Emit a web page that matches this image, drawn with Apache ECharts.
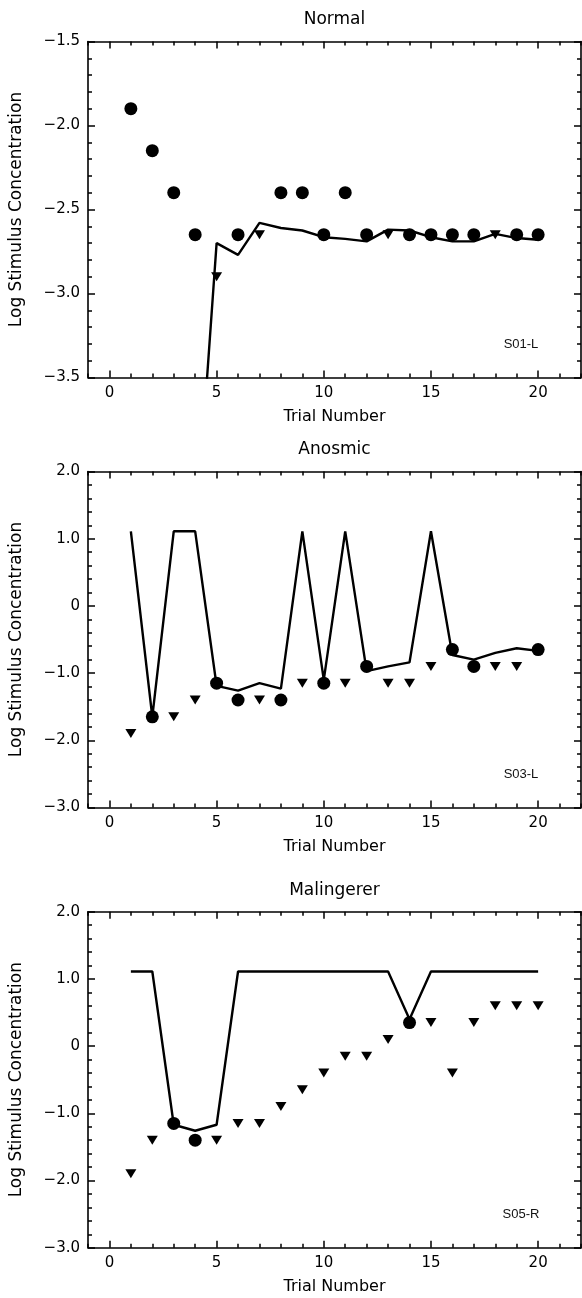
<!DOCTYPE html>
<html>
<head>
<meta charset="utf-8">
<script src="https://cdn.jsdelivr.net/npm/echarts@6/dist/echarts.min.js"></script>
<style>
  html, body { margin: 0; padding: 0; background: #fff; }
  #chart { width: 582px; height: 1298px; }
</style>
</head>
<body>
<div id="chart"></div>
<script>
// trial numbers (x)
var trials = [1,2,3,4,5,6,7,8,9,10,11,12,13,14,15,16,17,18,19,20];
var xTicks = [0, 5, 10, 15, 20];

// Normal, S01-L
var normCircle = [-1.9,-2.15,-2.4,-2.65,null,-2.65,null,-2.4,-2.4,-2.65,-2.4,-2.65,null,-2.65,-2.65,-2.65,-2.65,null,-2.65,-2.65];
var normTri    = [null,null,null,null,-2.9,null,-2.65,null,null,null,null,null,-2.65,null,null,null,null,-2.65,null,null];
var normLine   = [null,null,null,-4.5,-2.70,-2.77,-2.58,-2.61,-2.625,-2.665,-2.675,-2.69,-2.62,-2.625,-2.665,-2.69,-2.69,-2.645,-2.67,-2.68];

// Anosmic, S03-L
var anosCircle = [null,-1.65,null,null,-1.15,-1.4,null,-1.4,null,-1.15,null,-0.9,null,null,null,-0.65,-0.9,null,null,-0.65];
var anosTri    = [-1.9,null,-1.65,-1.4,null,null,-1.4,null,-1.15,null,-1.15,null,-1.15,-1.15,-0.9,null,null,-0.9,-0.9,null];
var anosLine   = [1.11,-1.65,1.11,1.11,-1.19,-1.26,-1.15,-1.23,1.11,-1.1,1.11,-0.97,-0.9,-0.84,1.11,-0.73,-0.8,-0.7,-0.63,-0.67];

// Malingerer, S05-R
var malCircle = [null,null,-1.15,-1.4,null,null,null,null,null,null,null,null,null,0.35,null,null,null,null,null,null];
var malTri    = [-1.9,-1.4,null,null,-1.4,-1.15,-1.15,-0.9,-0.65,-0.4,-0.15,-0.15,0.1,null,0.35,-0.4,0.35,0.6,0.6,0.6];
var malLine   = [1.11,1.11,-1.17,-1.26,-1.17,1.11,1.11,1.11,1.11,1.11,1.11,1.11,1.11,0.4,1.11,1.11,1.11,1.11,1.11,1.11];

var panels = [
  { title: 'Normal', tag: 'S01-L', top: 41.5, ymin: -3.5, ymax: -1.5, step: 0.5, circle: normCircle, tri: normTri, line: normLine },
  { title: 'Anosmic', tag: 'S03-L', top: 471.5, ymin: -3, ymax: 2, step: 1, circle: anosCircle, tri: anosTri, line: anosLine },
  { title: 'Malingerer', tag: 'S05-R', top: 911.7, ymin: -3, ymax: 2, step: 1, circle: malCircle, tri: malTri, line: malLine }
];

var FONT = 'DejaVu Sans';
var H = 336;

function pairs(vals) {
  return trials.map(function (t, k) { return [t, vals[k]]; });
}
function yFmt(v) {
  if (Math.abs(v) < 1e-9) return '0';
  return (v < 0 ? '\u2212' : '') + Math.abs(v).toFixed(1);
}

var grid = [], xAxis = [], yAxis = [], series = [], title = [];
var lineBlack = { color: '#000', width: 1.6 };
var tickBlack = { color: '#000', width: 1.5 };

panels.forEach(function (p, i) {
  grid.push({ left: 88, right: 1, top: p.top, height: H, outerBoundsMode: 'none' });

  title.push({
    text: p.title, left: 334.5, top: p.top - 30, textAlign: 'center', padding: 0,
    textStyle: { fontFamily: FONT, fontSize: 17, fontWeight: 'normal', color: '#000' }
  });
  title.push({
    text: p.tag, left: 521, top: p.top + 296, textAlign: 'center', padding: 0,
    textStyle: { fontFamily: 'Liberation Sans', fontSize: 13, fontWeight: 'normal', color: '#111' }
  });

  // bottom main
  xAxis.push({
    type: 'value', gridIndex: i, position: 'bottom', min: -1, max: 22,
    name: 'Trial Number', nameLocation: 'middle', nameGap: 31,
    nameTextStyle: { fontFamily: FONT, fontSize: 16, color: '#000' },
    axisLine: { show: true, onZero: false, lineStyle: lineBlack },
    axisTick: { show: true, inside: true, length: 7, customValues: xTicks, lineStyle: tickBlack },
    axisLabel: { show: true, customValues: xTicks, margin: 8, fontFamily: FONT, fontSize: 15, color: '#000' },
    splitLine: { show: false }
  });
  // bottom minor
  xAxis.push({
    type: 'value', gridIndex: i, position: 'bottom', min: -1, max: 22, interval: 1,
    axisLine: { show: false, onZero: false },
    axisTick: { show: true, inside: true, length: 4, lineStyle: tickBlack },
    axisLabel: { show: false }, splitLine: { show: false }
  });
  // top main
  xAxis.push({
    type: 'value', gridIndex: i, position: 'top', min: -1, max: 22,
    axisLine: { show: true, onZero: false, lineStyle: lineBlack },
    axisTick: { show: true, inside: true, length: 7, customValues: xTicks, lineStyle: tickBlack },
    axisLabel: { show: false }, splitLine: { show: false }
  });
  // top minor
  xAxis.push({
    type: 'value', gridIndex: i, position: 'top', min: -1, max: 22, interval: 1,
    axisLine: { show: false, onZero: false },
    axisTick: { show: true, inside: true, length: 4, lineStyle: tickBlack },
    axisLabel: { show: false }, splitLine: { show: false }
  });

  yAxis.push({
    type: 'value', gridIndex: i, position: 'left', min: p.ymin, max: p.ymax, interval: p.step,
    name: 'Log Stimulus Concentration', nameLocation: 'middle', nameGap: 63, nameRotate: 90,
    nameTextStyle: { fontFamily: FONT, fontSize: 17, color: '#000' },
    axisLine: { show: true, onZero: false, lineStyle: lineBlack },
    axisTick: { show: true, inside: true, length: 7, lineStyle: tickBlack },
    minorTick: { show: true, splitNumber: 5, length: 4, lineStyle: tickBlack },
    axisLabel: { show: true, margin: 8, fontFamily: FONT, fontSize: 15, color: '#000', formatter: yFmt },
    splitLine: { show: false }
  });
  yAxis.push({
    type: 'value', gridIndex: i, position: 'right', min: p.ymin, max: p.ymax, interval: p.step,
    axisLine: { show: true, onZero: false, lineStyle: lineBlack },
    axisTick: { show: true, inside: true, length: 7, lineStyle: tickBlack },
    minorTick: { show: true, splitNumber: 5, length: 4, lineStyle: tickBlack },
    axisLabel: { show: false }, splitLine: { show: false }
  });

  series.push({
    type: 'line', xAxisIndex: i * 4, yAxisIndex: i * 2, data: pairs(p.line),
    symbol: 'none', clip: true, z: 2,
    lineStyle: { color: '#000', width: 2.4 }
  });
  series.push({
    type: 'scatter', xAxisIndex: i * 4, yAxisIndex: i * 2, data: pairs(p.circle),
    symbol: 'circle', symbolSize: 13, z: 3,
    itemStyle: { color: '#000', opacity: 1 }
  });
  series.push({
    type: 'scatter', xAxisIndex: i * 4, yAxisIndex: i * 2, data: pairs(p.tri),
    symbol: 'triangle', symbolRotate: 180, symbolSize: [11, 9], z: 3,
    itemStyle: { color: '#000', opacity: 1 }
  });
});

var chart = echarts.init(document.getElementById('chart'), null, { renderer: 'canvas' });
chart.setOption({
  animation: false,
  backgroundColor: '#fff',
  title: title,
  grid: grid,
  xAxis: xAxis,
  yAxis: yAxis,
  series: series
});
</script>
</body>
</html>
